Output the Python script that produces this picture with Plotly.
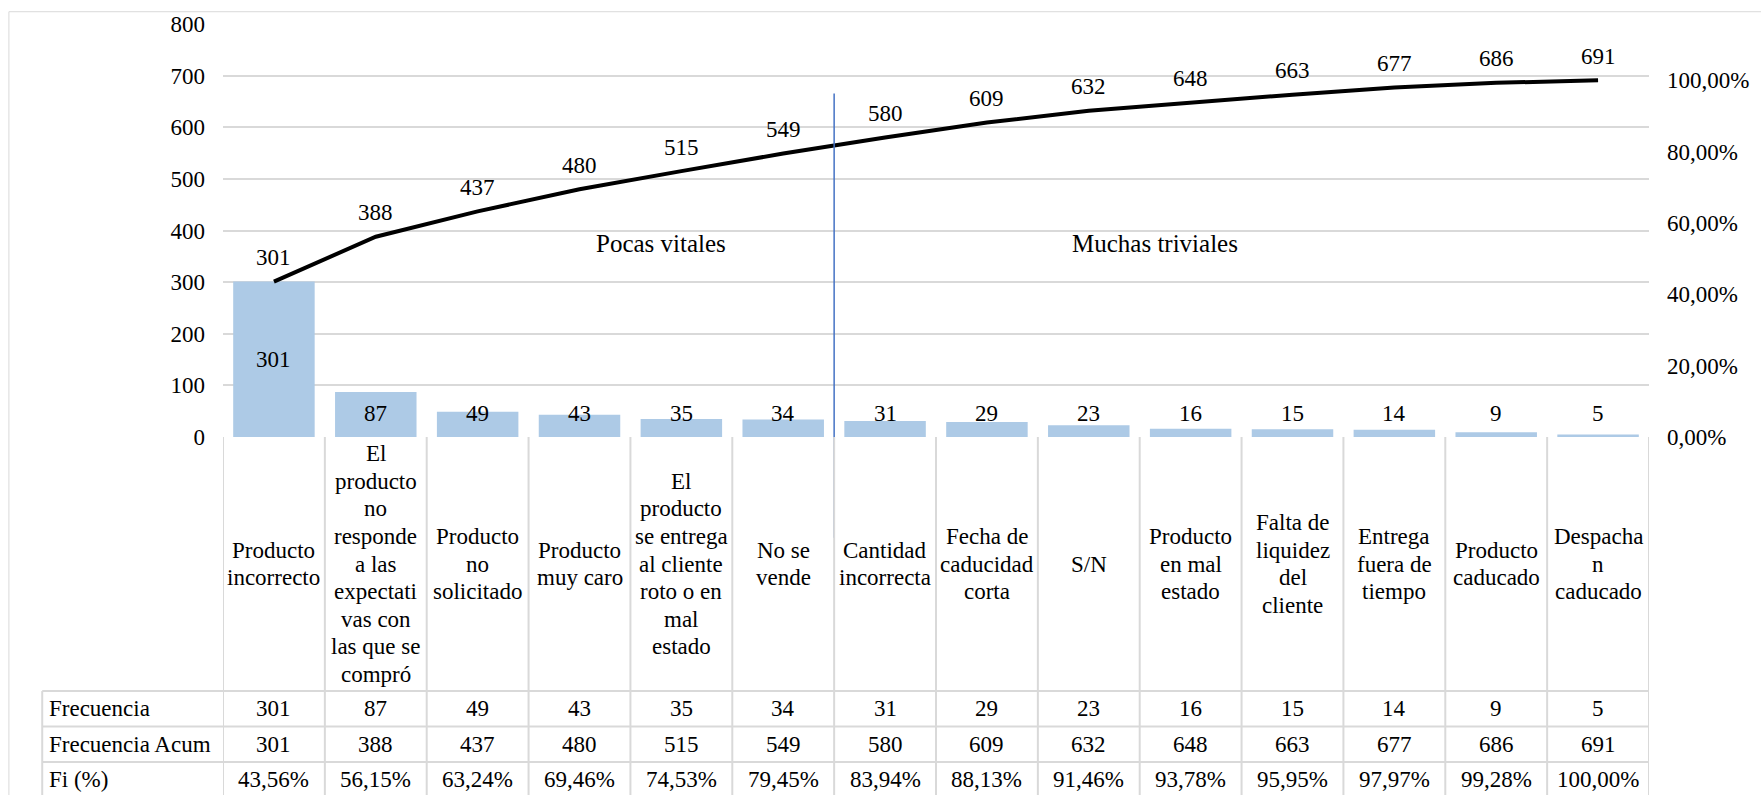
import plotly.graph_objects as go

# --- data -------------------------------------------------------------
categorias = [
    "Producto incorrecto",
    "El producto no responde a las expectativas con las que se compró",
    "Producto no solicitado",
    "Producto muy caro",
    "El producto se entrega al cliente roto o en mal estado",
    "No se vende",
    "Cantidad incorrecta",
    "Fecha de caducidad corta",
    "S/N",
    "Producto en mal estado",
    "Falta de liquidez del cliente",
    "Entrega fuera de tiempo",
    "Producto caducado",
    "Despachan caducado",
]
# how each category name wraps inside its table cell
etiquetas = [
    ["Producto", "incorrecto"],
    ["El", "producto", "no", "responde", "a las", "expectati", "vas con", "las que se", "compró"],
    ["Producto", "no", "solicitado"],
    ["Producto", "muy caro"],
    ["El", "producto", "se entrega", "al cliente", "roto o en", "mal", "estado"],
    ["No se", "vende"],
    ["Cantidad", "incorrecta"],
    ["Fecha de", "caducidad", "corta"],
    ["S/N"],
    ["Producto", "en mal", "estado"],
    ["Falta de", "liquidez", "del", "cliente"],
    ["Entrega", "fuera de", "tiempo"],
    ["Producto", "caducado"],
    ["Despacha", "n", "caducado"],
]
frecuencia = [301, 87, 49, 43, 35, 34, 31, 29, 23, 16, 15, 14, 9, 5]
frecuencia_acum = [301, 388, 437, 480, 515, 549, 580, 609, 632, 648, 663, 677, 686, 691]
fi_pct = [43.56, 56.15, 63.24, 69.46, 74.53, 79.45, 83.94, 88.13, 91.46, 93.78, 95.95, 97.97, 99.28, 100.00]
filas = ["Frecuencia", "Frecuencia Acum", "Fi (%)"]
y_ticks = [0, 100, 200, 300, 400, 500, 600, 700, 800]
y2_ticks = [0, 0.2, 0.4, 0.6, 0.8, 1.0]

# --- geometry ---------------------------------------------------------
W, H = 1761, 795
ML, MR, MT, MB = 223, 108, 23, 358
PLOT_W = W - ML - MR
PLOT_H = H - MT - MB
FONT = "Liberation Serif, Times New Roman, serif"
FS = 23
GRID = "#D9D9D9"


def py(Y):
    """paper y for a pixel row"""
    return (H - MB - Y) / PLOT_H


def px(X):
    """paper x for a pixel column"""
    return (X - ML) / PLOT_W


n = len(categorias)
fig = go.Figure()

fig.add_trace(go.Bar(
    x=categorias, y=frecuencia, marker=dict(color="#ADCAE6", line=dict(width=0)),
    hoverinfo="x+y", showlegend=False,
))
fig.add_trace(go.Scatter(
    x=categorias, y=frecuencia_acum, mode="lines",
    line=dict(color="black", width=4), showlegend=False,
))
# cumulative share on the right-hand percentage axis
fig.add_trace(go.Scatter(
    x=categorias, y=[v / 100 for v in fi_pct], yaxis="y2", mode="lines",
    line=dict(color="rgba(0,0,0,0)", width=0), hoverinfo="skip", showlegend=False,
))

ann = []
shapes = []

# bar value labels
for c, v in zip(categorias, frecuencia):
    ann.append(dict(x=c, y=max(v / 2, 45), xref="x", yref="y", text=str(v),
                    showarrow=False, font=dict(family=FONT, size=FS, color="black")))
# cumulative value labels above the line
for c, v in zip(categorias, frecuencia_acum):
    ann.append(dict(x=c, y=v, xref="x", yref="y", text=str(v), yshift=24,
                    showarrow=False, font=dict(family=FONT, size=FS, color="black")))

# zone captions
ann.append(dict(x=3.8, y=374, xref="x", yref="y", text="Pocas vitales", showarrow=False,
                font=dict(family=FONT, size=25, color="black")))
ann.append(dict(x=8.65, y=374, xref="x", yref="y", text="Muchas triviales", showarrow=False,
                font=dict(family=FONT, size=25, color="black")))

# separator between the vital few and the trivial many
shapes.append(dict(type="line", xref="x", yref="paper", x0=5.5, x1=5.5,
                   y0=py(92.7), y1=py(538), line=dict(color="#4472C4", width=1.5)))

# --- data table under the chart ----------------------------------------
CAT_TOP, CAT_BOT = 437, 691.7
ROW_H = 35.5
row_lines = [CAT_BOT + k * ROW_H for k in range(4)]
TABLE_BOT = row_lines[-1]
LINE_H = 27.7
cat_mid = (CAT_TOP + CAT_BOT) / 2

for i, lines in enumerate(etiquetas):
    m = len(lines)
    for j, t in enumerate(lines):
        Y = cat_mid + (j - (m - 1) / 2) * LINE_H
        ann.append(dict(x=i, y=py(Y), xref="x", yref="paper", text=t, showarrow=False,
                        yanchor="middle", font=dict(family=FONT, size=FS, color="black")))

valores = [
    [str(v) for v in frecuencia],
    [str(v) for v in frecuencia_acum],
    [f"{v:.2f}".replace(".", ",") + "%" for v in fi_pct],
]
for r, (nombre, vals) in enumerate(zip(filas, valores)):
    Y = row_lines[r] + ROW_H / 2
    ann.append(dict(x=px(46.7), y=py(Y), xref="paper", yref="paper", text=nombre,
                    showarrow=False, xanchor="left", yanchor="middle",
                    font=dict(family=FONT, size=FS, color="black")))
    for i, t in enumerate(vals):
        ann.append(dict(x=i, y=py(Y), xref="x", yref="paper", text=t, showarrow=False,
                        yanchor="middle", font=dict(family=FONT, size=FS, color="black")))

for i in range(n + 1):
    shapes.append(dict(type="line", xref="x", yref="paper", x0=i - 0.5, x1=i - 0.5,
                       y0=py(CAT_TOP), y1=py(TABLE_BOT), line=dict(color=GRID, width=2)))
for Y in row_lines:
    shapes.append(dict(type="line", xref="paper", yref="paper", x0=px(41.7), x1=1,
                       y0=py(Y), y1=py(Y), line=dict(color=GRID, width=2)))
shapes.append(dict(type="line", xref="paper", yref="paper", x0=px(41.7), x1=px(41.7),
                   y0=py(CAT_BOT), y1=py(TABLE_BOT), line=dict(color=GRID, width=2)))

# chart frame
shapes.append(dict(type="rect", xref="paper", yref="paper", x0=px(8.3), x1=px(W + 10),
                   y0=py(10.7), y1=py(H + 10), line=dict(color=GRID, width=1),
                   layer="below"))

fig.update_layout(
    width=W, height=H,
    margin=dict(l=ML, r=MR, t=MT, b=MB, pad=0),
    paper_bgcolor="white", plot_bgcolor="white",
    separators=",.",
    bargap=0.2,
    showlegend=False,
    font=dict(family=FONT, size=FS, color="black"),
    xaxis=dict(type="category", range=[-0.5, n - 0.5], showticklabels=False,
               showgrid=False, zeroline=False, showline=False, fixedrange=True),
    yaxis=dict(range=[0, 800], tickvals=y_ticks, showgrid=True, gridcolor=GRID,
               gridwidth=2, zeroline=False, showline=False, ticks="",
               ticklabelstandoff=17, tickfont=dict(family=FONT, size=FS, color="black")),
    yaxis2=dict(range=[0, 800 / 691], overlaying="y", side="right", tickvals=y2_ticks,
                tickformat=".2%", showgrid=False, zeroline=False, showline=False, ticks="",
                ticklabelstandoff=17, tickfont=dict(family=FONT, size=FS, color="black")),
    annotations=ann,
    shapes=shapes,
)

fig.write_html("out.html")
